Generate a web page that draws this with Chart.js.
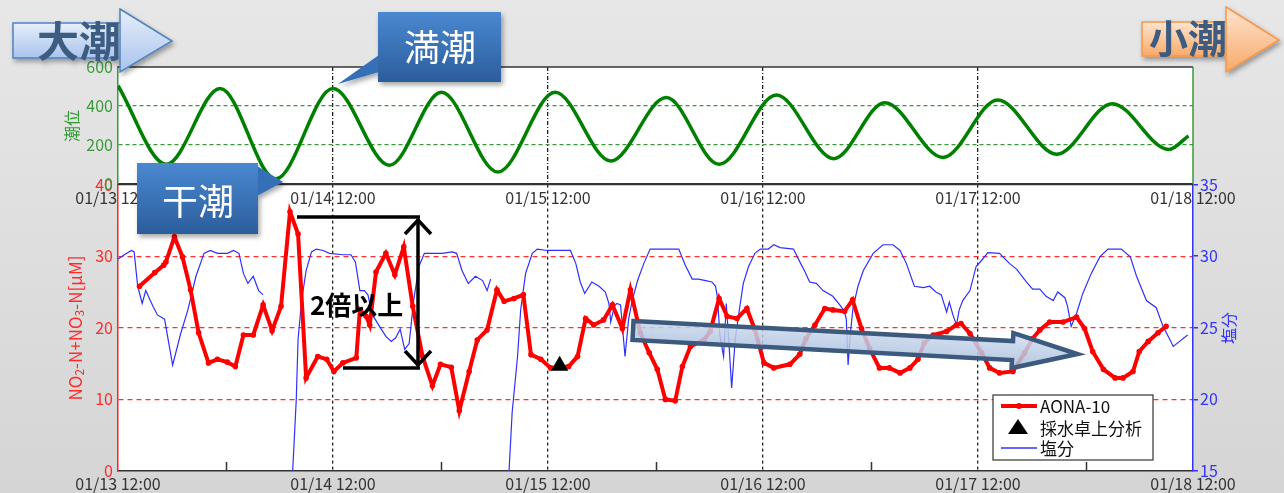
<!DOCTYPE html>
<html><head><meta charset="utf-8">
<script src="https://cdn.jsdelivr.net/npm/chart.js@4.4.0/dist/chart.umd.min.js"></script>
<style>
html,body{margin:0;padding:0;}
body{width:1284px;height:493px;position:relative;overflow:hidden;background:linear-gradient(180deg,#e7e7e7 0%,#d5d5d5 100%);font-family:"Noto Sans CJK JP","Noto Sans",sans-serif;}
canvas{position:absolute;left:0;}
#bottomChart{top:170px;}
#topChart{top:0;}
#ann{position:absolute;left:0;top:0;pointer-events:none;}
</style></head>
<body>
<canvas id="bottomChart" width="1284" height="323"></canvas>
<canvas id="topChart" width="1284" height="210"></canvas>
<svg id="ann" width="1284" height="493" font-family="Noto Sans CJK JP, Noto Sans, sans-serif">
<defs>
 <linearGradient id="gBlueArrow" x1="0" y1="0" x2="0" y2="1"><stop offset="0" stop-color="#e6eefb"/><stop offset="1" stop-color="#a9c4ec"/></linearGradient>
 <linearGradient id="gOrange" x1="0" y1="0" x2="0" y2="1"><stop offset="0" stop-color="#fde4cf"/><stop offset="1" stop-color="#f8aa6a"/></linearGradient>
 <linearGradient id="gCallout" x1="0" y1="0" x2="0" y2="1"><stop offset="0" stop-color="#4a88d0"/><stop offset="1" stop-color="#2b5d9c"/></linearGradient>
 <linearGradient id="gTrend" x1="0" y1="0" x2="0" y2="1"><stop offset="0" stop-color="#d2def0"/><stop offset="1" stop-color="#a7bddb"/></linearGradient>
 <filter id="shadow" x="-20%" y="-20%" width="150%" height="160%"><feDropShadow dx="2" dy="3" stdDeviation="2.5" flood-color="#000" flood-opacity="0.35"/></filter>
</defs>
<!-- axis titles -->
<text transform="translate(71,126) rotate(-90)" text-anchor="middle" dominant-baseline="central" font-size="16" fill="#2e9a2e">潮位</text>
<text transform="translate(74,328) rotate(-90)" text-anchor="middle" dominant-baseline="central" font-size="17" fill="#ff2a2a">NO<tspan font-size="12" dy="4">2</tspan><tspan dy="-4">-N+NO</tspan><tspan font-size="12" dy="4">3</tspan><tspan dy="-4">-N[μM]</tspan></text>
<text transform="translate(1228,328) rotate(-90)" text-anchor="middle" dominant-baseline="central" font-size="16" fill="#3333ff">塩分</text>
<!-- 大潮 arrow -->
<g filter="url(#shadow)">
 <rect x="13" y="23" width="108" height="35" fill="url(#gBlueArrow)" stroke="#4f81bd" stroke-width="1.5"/>
 <text x="37" y="57" font-size="42" font-weight="bold" fill="#3d5b82">大潮</text>
 <polygon points="120,9 172,41 120,72" fill="url(#gBlueArrow)" stroke="#4f81bd" stroke-width="1.5"/>
</g>
<!-- 小潮 arrow -->
<g filter="url(#shadow)">
 <rect x="1142" y="22" width="86" height="34" fill="url(#gOrange)" stroke="#f79646" stroke-width="1.5"/>
 <text x="1149" y="53" font-size="39" font-weight="bold" fill="#3d5b82">小潮</text>
 <polygon points="1226,7 1279,40 1226,72" fill="url(#gOrange)" stroke="#f79646" stroke-width="1.5"/>
</g>
<!-- 満潮 callout -->
<g filter="url(#shadow)">
 <polygon points="379,55 338,84 379,72" fill="#3570b6"/>
 <rect x="378" y="12" width="123" height="70" fill="url(#gCallout)"/>
 <text x="440" y="61" text-anchor="middle" font-size="36" fill="#ffffff">満潮</text>
</g>
<!-- 干潮 callout -->
<g filter="url(#shadow)">
 <polygon points="257,166 283,182 257,196" fill="#3570b6"/>
 <rect x="137" y="163" width="121" height="71" fill="url(#gCallout)"/>
 <text x="198" y="215" text-anchor="middle" font-size="36" fill="#ffffff">干潮</text>
</g>
<!-- 2倍以上 -->
<g stroke="#000" stroke-width="3.5" fill="none" stroke-linecap="butt">
 <line x1="297" y1="217" x2="420" y2="217"/>
 <line x1="343" y1="368" x2="420" y2="368"/>
 <line x1="418" y1="219" x2="418" y2="366"/>
 <polyline points="405,234 418,220 431,234"/>
 <polyline points="405,351 418,365 431,351"/>
</g>
<text x="310" y="315" font-size="26" font-weight="bold" fill="#000">2倍以上</text>
<!-- trend arrow -->
<g transform="translate(633,330.5) rotate(3.03)">
 <polygon points="0,-9.5 380,-9.5 380,-17.5 445,0 380,17.5 380,9.5 0,9.5" fill="url(#gTrend)" fill-opacity="0.85" stroke="#3b5a7e" stroke-width="4.5" stroke-linejoin="miter"/>
</g>
<!-- legend -->
<rect x="993" y="395" width="160" height="65" fill="#fff" stroke="#333" stroke-width="1.2"/>
<line x1="1001" y1="406" x2="1037" y2="406" stroke="#ff0000" stroke-width="4"/>
<circle cx="1019" cy="406" r="3" fill="#ff0000"/>
<text x="1040" y="413" font-size="17" fill="#111">AONA-10</text>
<polygon points="1018,419 1028,434 1008,434" fill="#000"/>
<text x="1040" y="434.5" font-size="17" fill="#111">採水卓上分析</text>
<line x1="1001" y1="448" x2="1037" y2="448" stroke="#3333ff" stroke-width="1.3"/>
<text x="1040" y="454.5" font-size="17" fill="#111">塩分</text>
</svg>
<script>
// ---- data (hours after 01/13 12:00) ----
const tickLabels = ['01/13 12:00','01/14 12:00','01/15 12:00','01/16 12:00','01/17 12:00','01/18 12:00'];
const minorTickHours = [12, 36, 60, 84, 108];

const tideHours  = [0, 5.4, 11.4, 17.6, 24.0, 30.3, 36.1, 42.4, 48.8, 55.0, 61.2, 67.1, 73.5, 79.9, 85.6, 92.1, 98.2, 104.8, 111.0, 117.3, 119.5];
const tideLevels = [504, 101, 490, 26, 490, 96, 470, 61, 470, 118, 443, 101, 456, 130, 417, 136, 431, 153, 412, 177, 247];

const nitrateHours = [2.4,4.1,5.1,5.35,6.3,7.2,8.1,9.0,10.1,11.1,12.2,13.1,14.0,15.1,16.2,17.2,18.2,19.2,20.1,21.0,22.3,23.3,24.1,25.1,26.6,27.0,27.7,28.1,28.8,29.9,30.9,31.9,32.9,34.0,35.1,36.0,37.2,38.1,39.2,40.1,41.2,42.3,43.1,44.2,45.25,46.1,47.2,48.3,50.3,51.3,52.2,53.1,54.2,55.2,56.3,57.2,58.3,59.3,60.2,61.1,62.2,63.0,63.9,65.4,66.1,67.1,68.0,69.1,70.2,71.1,72.1,73.2,75.0,76.1,76.8,77.8,78.9,79.8,81.1,82.0,83.0,83.9,85.0,86.1,87.3,88.4,89.3,90.0,91.0,92.5,93.6,94.1,95.1,96.4,97.3,98.4,99.9,101.2,102.1,102.9,104.0,105.5,107.0,107.9,108.8,110.0,111.3,112.2,113.3,114.0,115.0,116.1,117.0];
const nitrateValues = [25.8,27.7,28.75,29.2,32.7,29.9,25.3,19.3,15.1,15.6,15.2,14.6,19.0,19.0,23.2,19.6,23.0,36.2,33.1,13.0,16.0,15.6,13.9,15.1,15.8,22.5,21.6,20.4,27.8,30.4,27.4,31.3,23.0,16.0,11.9,14.9,14.5,8.4,13.9,18.3,19.7,25.3,23.7,24.1,24.6,16.25,15.6,14.4,14.6,16.0,21.3,20.4,21.1,23.2,19.9,25.3,19.3,16.5,14.2,10.0,9.8,14.6,17.4,18.3,19.5,24.1,21.6,21.3,22.7,19.7,15.1,14.4,14.9,16.3,18.5,20.4,22.7,22.5,22.3,23.9,19.9,17.1,14.4,14.4,13.7,14.4,15.6,17.9,19.0,19.5,20.4,20.6,19.2,16.5,14.4,13.7,13.9,16.5,18.5,19.7,20.8,20.8,21.5,19.9,16.7,14.2,13.0,13.0,13.9,16.7,18.1,19.3,20.2];

const salinityHours = [0,0.7,1.5,1.8,2.2,2.7,3.1,3.9,4.4,5.2,6.1,7.0,7.8,8.7,9.6,10.3,11.1,12.2,12.9,13.5,14.0,14.5,15.1,15.7,16.2,17.8,19.5,19.9,20.1,20.5,21.0,21.6,22.15,22.9,23.6,25.1,26.0,26.5,27.0,27.5,27.9,28.4,29.2,29.9,30.5,31.0,31.5,32.0,32.5,33.0,33.6,34.2,35.1,36.2,37.3,37.8,38.4,39.1,39.9,40.7,41.2,41.6,42.6,43.65,44.0,44.6,44.95,45.5,46.25,46.8,47.9,50.5,51.1,51.6,52.1,52.9,53.7,54.4,54.8,55.0,55.4,55.7,56.1,56.6,57.0,57.4,58.0,58.7,59.4,62.6,63.3,64.1,64.8,65.6,66.3,66.7,66.9,67.2,67.6,67.9,68.2,68.5,68.9,69.3,69.8,70.4,71.1,71.7,72.6,73.2,73.9,75.4,76.2,76.7,77.2,77.95,78.7,79.8,80.7,81.1,81.3,81.5,81.75,82.05,82.6,83.2,84.3,85.4,86.5,87.3,88.0,88.9,89.9,90.6,91.3,91.9,92.5,92.8,93.2,93.6,93.9,94.3,95.1,95.8,96.4,97.1,98.4,99.5,100.3,101.4,102.1,102.9,103.6,104.4,104.9,105.7,106.0,106.4,107.0,107.7,108.65,109.6,110.5,112.0,113.0,113.7,114.8,115.9,116.65,117.4,117.8,118.5,119.4];
const salinityValues = [29.8,30.1,30.4,30.3,27.9,26.7,27.6,26.5,25.9,25.6,22.4,24.6,26.25,28.6,30.2,30.4,30.2,30.2,30.4,30.2,28.8,28.1,28.6,27.6,27.3,null,15.0,20.0,24.2,26.9,29.0,30.3,30.5,30.4,30.2,30.1,30.1,29.6,27.6,27.6,27.3,25.9,25.1,24.4,24.05,24.3,24.9,23.5,23.9,26.9,29.3,30.2,30.2,30.2,30.3,30.2,29.0,28.1,28.6,28.3,27.6,28.4,null,15.0,19.1,23.0,26.25,28.8,30.2,30.5,30.4,30.4,29.5,28.2,27.4,28.2,27.9,27.5,26.7,25.4,26.5,26.7,26.6,23.0,25.6,26.9,28.3,29.5,30.5,30.5,29.4,28.4,28.4,28.3,28.2,27.9,27.2,24.4,23.0,26.7,23.9,20.8,24.2,26.0,28.1,29.3,30.2,30.5,30.5,30.8,30.6,30.5,29.5,28.9,28.2,28.1,27.6,27.2,26.5,26.1,25.6,22.4,24.6,26.4,27.9,29.0,30.2,30.8,30.8,30.4,29.5,27.9,27.8,27.9,27.5,27.3,26.1,26.8,25.9,25.2,26.25,26.9,27.6,29.3,29.7,30.25,30.2,29.5,29.1,28.2,27.7,27.7,27.2,26.9,27.5,27.1,26.5,25.1,26.0,27.4,28.8,29.95,30.5,30.5,29.95,28.6,26.9,26.4,25.1,24.2,23.7,24.05,24.5];

const sampleHours = [49.3];
const sampleValues = [14.7];

// ---- helpers ----
const toPoints = (hs, vs) => hs.map((h, i) => ({x: h, y: vs[i]}));
Chart.defaults.font.family = '"Noto Sans CJK JP","Noto Sans",sans-serif';
Chart.defaults.font.size = 16;

const panelPlugin = {
  id: 'panel',
  beforeDraw(chart) {
    const {ctx, chartArea: a} = chart;
    ctx.save(); ctx.fillStyle = '#ffffff';
    ctx.fillRect(a.left, a.top, a.right - a.left, a.bottom - a.top);
    ctx.restore();
  },
  afterDraw(chart, args, opts) {
    const {ctx, chartArea: a} = chart;
    ctx.save();
    ctx.lineWidth = 1.5;
    ctx.strokeStyle = opts.topColor || '#333';
    ctx.beginPath(); ctx.moveTo(a.left, a.top); ctx.lineTo(a.right, a.top); ctx.stroke();
    if (opts.rightColor) {
      ctx.strokeStyle = opts.rightColor;
      ctx.beginPath(); ctx.moveTo(a.right, a.top); ctx.lineTo(a.right, a.bottom); ctx.stroke();
    }
    if (opts.minorTicks) {
      const xs = chart.scales.x;
      ctx.strokeStyle = '#333'; ctx.lineWidth = 1.5;
      opts.minorTicks.forEach(h => {
        const px = Math.round(xs.getPixelForValue(h)) + 0.5;
        ctx.beginPath(); ctx.moveTo(px, a.bottom); ctx.lineTo(px, a.bottom - 9); ctx.stroke();
      });
    }
    ctx.restore();
  }
};

const xLabel = v => (v % 24 === 0 ? tickLabels[v / 24] : '');
const vGrid = (color) => (ctx => (ctx.tick && ctx.tick.value % 24 === 0 && ctx.tick.value > 0 && ctx.tick.value < 120) ? color : 'rgba(0,0,0,0)');

// ---- top chart: tide level ----
new Chart(document.getElementById('topChart'), {
  type: 'line',
  data: { datasets: [{
    label: '潮位', data: toPoints(tideHours, tideLevels),
    borderColor: '#008000', borderWidth: 3.5, pointRadius: 0,
    cubicInterpolationMode: 'monotone', fill: false
  }]},
  options: {
    responsive: false, animation: false, events: [],
    layout: { padding: { top: 67, right: 91, left: 0, bottom: 0 } },
    plugins: { legend: { display: false }, tooltip: { enabled: false },
      panel: { topColor: '#333', rightColor: '#3a9a3a' } },
    scales: {
      x: { type: 'linear', min: 0, max: 120,
        afterFit: s => { s.height = 26; },
        ticks: { stepSize: 12, autoSkip: false, maxRotation: 0, color: '#333', padding: 4, callback: xLabel },
        grid: { drawTicks: false, color: vGrid('#222'), lineWidth: 1.3 },
        border: { color: '#333', width: 1.5, dash: [4, 2, 1, 2] } },
      y: { min: 0, max: 600,
        afterFit: s => { s.width = 118; },
        ticks: { stepSize: 200, color: '#3a9a3a', padding: 5 },
        grid: { drawTicks: false, lineWidth: 1.3,
          color: ctx => (ctx.tick && (ctx.tick.value === 200 || ctx.tick.value === 400)) ? '#3a9a3a' : 'rgba(0,0,0,0)' },
        border: { color: '#3a9a3a', width: 1.5, dash: [4, 3] } }
    }
  },
  plugins: [panelPlugin]
});

// ---- bottom chart: nitrate & salinity ----
new Chart(document.getElementById('bottomChart'), {
  type: 'line',
  data: { datasets: [
    { label: '採水卓上分析', data: toPoints(sampleHours, sampleValues), yAxisID: 'y', showLine: false,
      pointStyle: 'triangle', pointRadius: 10, pointBackgroundColor: '#000', pointBorderColor: '#000', pointBorderWidth: 0, order: 0 },
    { label: 'AONA-10', data: toPoints(nitrateHours, nitrateValues), yAxisID: 'y',
      borderColor: '#ff0000', borderWidth: 4, pointRadius: 2.8, pointBackgroundColor: '#ff0000', pointBorderWidth: 0,
      tension: 0, order: 1 },
    { label: '塩分', data: toPoints(salinityHours, salinityValues), yAxisID: 'y2',
      borderColor: '#2f2fff', borderWidth: 1.2, pointRadius: 0, tension: 0, spanGaps: false, order: 2 }
  ]},
  options: {
    responsive: false, animation: false, events: [],
    layout: { padding: { top: 14, right: 0, left: 0, bottom: 0 } },
    plugins: { legend: { display: false }, tooltip: { enabled: false },
      panel: { topColor: '#333', minorTicks: minorTickHours } },
    scales: {
      x: { type: 'linear', min: 0, max: 120,
        afterFit: s => { s.height = 22; },
        ticks: { stepSize: 12, autoSkip: false, maxRotation: 0, color: '#333', padding: 3, callback: xLabel },
        grid: { drawTicks: false, color: vGrid('#222'), lineWidth: 1.3 },
        border: { color: '#333', width: 1.5, dash: [3, 3] } },
      y: { position: 'left', min: 0, max: 40,
        afterFit: s => { s.width = 118; },
        ticks: { stepSize: 10, color: '#ff2a2a', padding: 5 },
        grid: { drawTicks: false, lineWidth: 1.3,
          color: ctx => (ctx.tick && ctx.tick.value > 0 && ctx.tick.value < 40) ? '#ff3030' : 'rgba(0,0,0,0)' },
        border: { color: '#ff2020', width: 1.5, dash: [5, 4] } },
      y2: { position: 'right', min: 15, max: 35,
        afterFit: s => { s.width = 91; },
        ticks: { stepSize: 5, color: '#3333ff', padding: 2 },
        grid: { drawOnChartArea: false, drawTicks: true, tickLength: 5, color: '#3333ff', lineWidth: 1.5 },
        border: { color: '#3333ff', width: 1.5 } }
    }
  },
  plugins: [panelPlugin]
});
</script>
</body></html>
